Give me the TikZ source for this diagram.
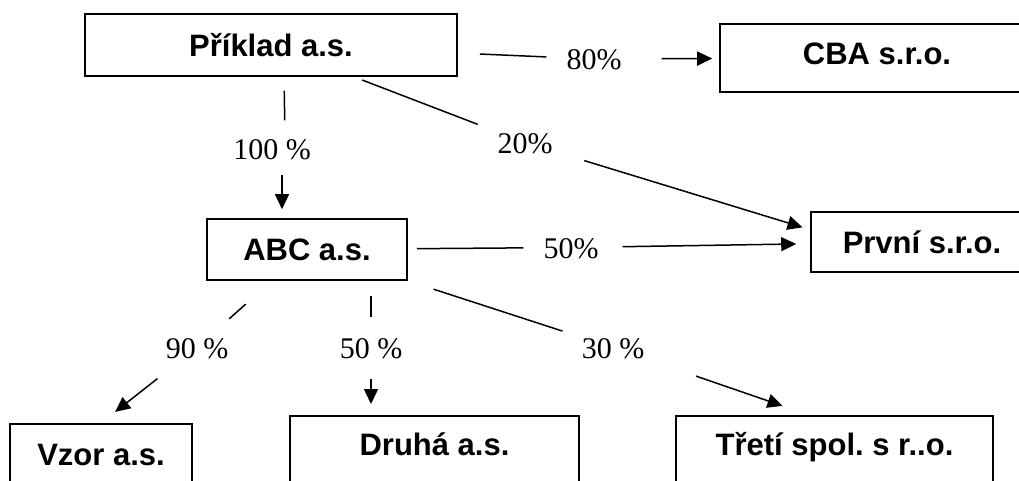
\documentclass[tikz,border=0pt]{standalone}
\usepackage{fontspec}
\setmainfont{Liberation Serif}
\setsansfont{Liberation Sans}
\usetikzlibrary{arrows.meta,calc}
\frenchspacing

\begin{document}
\begin{tikzpicture}[
  x=1pt,y=-1pt,
  firm/.style={draw,line width=1.6pt,inner sep=0pt,
    font=\sffamily\bfseries\fontsize{31}{36}\selectfont,text height=22pt,text depth=0pt},
  pct/.style={inner sep=0pt,font=\fontsize{30}{36}\selectfont,text height=21pt,text depth=0pt},
  link/.style={line width=1.5pt},
  arrow/.style={-{Triangle[length=15pt,width=14pt]},line width=1.5pt}
]
\useasboundingbox (0,0) rectangle (1019,480);
\clip (0,0) rectangle (1019,480);
\node[firm,minimum width=372pt,minimum height=62pt] (pk) at (271,45) {Příklad a.s.};
\node[firm,anchor=north,minimum width=314pt,inner ysep=19pt,text depth=8pt] (cba) at (877,23) {CBA s.r.o.};
\node[firm,minimum width=222pt,minimum height=60pt] (prv) at (922,242) {První s.r.o.};
\node[firm,minimum width=200pt,minimum height=61pt] (abc) at (307,249.5) {ABC a.s.};
\node[firm,anchor=north,minimum width=182pt,inner ysep=20pt,text depth=40pt] (vzor) at (101,423) {Vzor a.s.};
\node[firm,anchor=north,minimum width=289pt,inner ysep=18pt,text depth=40pt] (drh) at (434.5,415) {Druhá a.s.};
\node[firm,anchor=north,minimum width=317pt,inner ysep=18pt,text depth=40pt] (tri) at (834.5,415) {Třetí spol. s r..o.};
\node[pct] (p80) at (594,59) {80\%};
\node[pct] (p20) at (525,142.5) {20\%};
\node[pct] (p100) at (272,149) {100 \%};
\node[pct] (p50a) at (571,247.5) {50\%};
\node[pct] (p90) at (197,347.5) {90 \%};
\node[pct] (p50b) at (371,347.5) {50 \%};
\node[pct] (p30) at (613,347.5) {30 \%};
\draw[link,shorten <=22pt,shorten >=20pt] (pk) -- (p80);
\draw[arrow,shorten <=40pt,shorten >=7pt] (p80) -- (cba);
\draw[link,shorten <=9pt,shorten >=21pt] (pk) -- (p20);
\draw[arrow,shorten <=33pt,shorten >=8pt] (p20) -- ($(prv.north west)!.3!(prv.south west)$);
\draw[link,shorten <=14pt,shorten >=18pt] ([xshift=13pt]pk.south) -- ([xshift=13pt]p100.north);
\draw[arrow,shorten <=15pt,shorten >=9pt] ([xshift=10pt]p100.south) -- ([xshift=-25pt]abc.north);
\draw[link,shorten <=9pt,shorten >=20pt] (abc) -- (p50a);
\draw[arrow,shorten <=24pt,shorten >=14pt] (p50a) -- (prv);
\draw[link,shorten <=35pt,shorten >=27pt] (abc) -- (p90);
\draw[arrow,shorten <=33pt,shorten >=18pt] (p90) -- (vzor.north);
\draw[link,shorten <=15pt,shorten >=20pt] (abc.south -| p50b) -- (p50b);
\draw[arrow,shorten <=21pt,shorten >=11pt] (p50b) -- (drh.north -| p50b);
\draw[link,shorten <=27pt,shorten >=20pt] (abc.south east) -- (p30);
\draw[arrow,shorten <=55pt,shorten >=28pt] (p30) -- ($(tri.north west)!.42!(tri.north east)$);
\end{tikzpicture}
\end{document}
